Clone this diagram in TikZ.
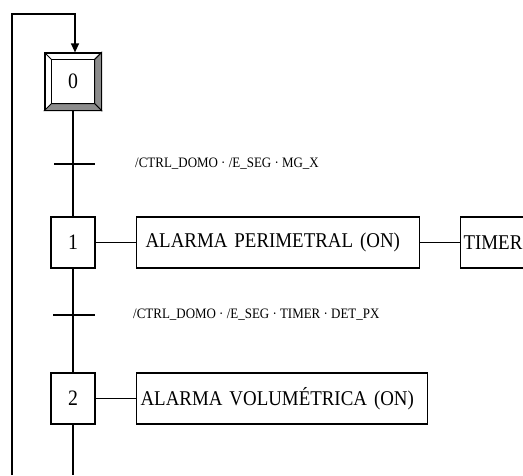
\documentclass[tikz,border=0pt]{standalone}
\usepackage{fontspec}
\setmainfont[FakeStretch=0.9]{Liberation Serif}
\usetikzlibrary{arrows.meta,calc}
\tikzset{
  ln/.style={line width=1.2pt},
  stepbox/.style={draw, line width=1.2pt, inner sep=0pt, font=\fontsize{22}{24}\selectfont},
  actbox/.style={draw, line width=1.2pt, inner ysep=0pt, minimum height=51pt, anchor=west, align=left, font=\fontsize{21}{24}\selectfont},
  trlabel/.style={anchor=west, inner sep=0pt, font=\fontsize{14.4}{16}\selectfont},
  bevel/.style={fill=black!45, draw, line width=0.9pt}
}
\begin{document}
\begin{tikzpicture}[x=1pt,y=-1pt]
\useasboundingbox (0,0) rectangle (523,475);
\clip (0,0) rectangle (523,475);
% step 0 (initial)
\node[stepbox, minimum width=56pt, minimum height=57pt] (s0) at (73,81.5) {0};
\coordinate (i0) at ($(s0.north west)+(7,7)$);
\coordinate (i1) at ($(s0.north east)+(-7,7)$);
\coordinate (i2) at ($(s0.south east)+(-7,-7)$);
\coordinate (i3) at ($(s0.south west)+(7,-7)$);
\draw[bevel] (s0.north east) -- (s0.south east) -- (i2) -- (i1) -- cycle;
\draw[bevel] (s0.south west) -- (s0.south east) -- (i2) -- (i3) -- cycle;
\draw[line width=0.9pt] (s0.north west) -- (i0) (s0.north east) -- (i1);
\draw[line width=0.9pt] (i0) rectangle (i2);
\draw[line width=1.2pt] (s0.north west) rectangle (s0.south east);
% steps 1 and 2
\node[stepbox, minimum width=44pt, minimum height=51pt] (s1) at (73,242.5) {1};
\node[stepbox, minimum width=44pt, minimum height=51pt] (s2) at (73,398.5) {2};
% actions
\node[actbox, inner xsep=9pt, text width=265pt] (a1) at (136,242.5) {ALARMA PERIMETRAL (ON)};
\node[actbox, inner xsep=3pt, text width=200pt] (tm) at (460,242.5) {TIMER};
\node[actbox, inner xsep=4pt, text width=283pt] (a2) at (136,398.5) {ALARMA VOLUMÉTRICA (ON)};
\draw[ln] (s1.east) -- (a1.west);
\draw[ln] (a1.east) -- (tm.west);
\draw[ln] (s2.east) -- (a2.west);
% transitions
\coordinate (t1) at (74,164);
\coordinate (t2) at (74,315);
\draw[ln] (s0.south) -- (s1.north);
\draw[ln] (s1.south) -- (s2.north);
\draw[ln] ($(t1)+(-20,0)$) -- ($(t1)+(21,0)$);
\draw[ln] ($(t2)+(-21,0)$) -- ($(t2)+(21,0)$);
\node[trlabel] (l1) at (135,164) {/CTRL\_DOMO · /E\_SEG · MG\_X};
\node[trlabel] (l2) at (133,315) {/CTRL\_DOMO · /E\_SEG · TIMER · DET\_PX};
% loop back
\coordinate (bot) at (73,475);
\coordinate (lb) at (12,475);
\coordinate (lt) at (12,14);
\coordinate (rt) at (75,14);
\draw[ln] (s2.south) -- (bot);
\draw[ln, -{Triangle[length=9pt,width=8pt]}] (lb) -- (lt) -- (rt) -- (rt |- s0.north);
\end{tikzpicture}
\end{document}
